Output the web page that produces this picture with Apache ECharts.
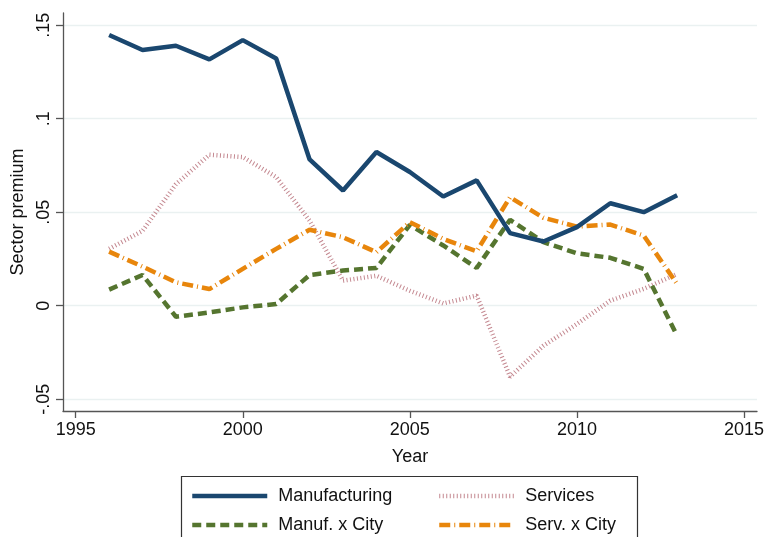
<!DOCTYPE html>
<html>
<head>
<meta charset="utf-8">
<script src="https://cdn.jsdelivr.net/npm/echarts@6/dist/echarts.min.js"></script>
<style>
  html, body { margin: 0; padding: 0; background: #fff; }
  #chart { width: 767px; height: 537px; }
</style>
</head>
<body>
<div id="chart"></div>
<script>
// data
var years = [1996,1997,1998,1999,2000,2001,2002,2003,2004,2005,2006,2007,2008,2009,2010,2011,2012,2013];
var manufacturing = [0.1447,0.1367,0.139,0.1317,0.142,0.1322,0.0782,0.0616,0.0822,0.0715,0.0584,0.067,0.0388,0.0343,0.042,0.0548,0.05,0.059];
var services = [0.0304,0.040,0.065,0.0807,0.0795,0.0688,0.0455,0.0134,0.016,0.008,0.0012,0.0054,-0.038,-0.0214,-0.0098,0.0027,0.009,0.017];
var manufCity = [0.0086,0.0164,-0.0059,-0.0036,-0.0009,0.0009,0.0164,0.0188,0.0202,0.0432,0.0322,0.0202,0.0459,0.034,0.028,0.0256,0.0197,-0.0161];
var servCity = [0.0289,0.0209,0.0125,0.0089,0.0197,0.0304,0.0406,0.0366,0.0286,0.0447,0.0357,0.0291,0.058,0.047,0.0423,0.0434,0.0375,0.0116];
var xTicks = [1995,2000,2005,2010,2015];
var yTicks = [-0.05,0,0.05,0.1,0.15];

function pairs(arr){
    return arr.map(function(v,i){ return [years[i], v]; });
}

var chart = echarts.init(document.getElementById('chart'));
var fontFam = '"Liberation Sans", Arial, Helvetica, sans-serif';
var axisColor = '#555555';

// one legend per item so the two columns line up like the original
function legendItem(name, left, top){
    return {
        left: left,
        top: top,
        padding: 0,
        itemWidth: 75,
        itemHeight: 14,
        itemGap: 0,
        itemStyle: { opacity: 0 },
        lineStyle: { width: 4.5 },
        textStyle: { color: '#111', fontSize: 18, fontFamily: fontFam, padding: [0, 0, 0, 6] },
        data: [name]
    };
}

var option = {
    animation: false,
    backgroundColor: '#ffffff',
    grid: {
        left: 63,
        right: 10,
        top: 13,
        bottom: 126
    },
    xAxis: {
        type: 'value',
        min: 1994.62,
        max: 2015.39,
        name: 'Year',
        nameLocation: 'middle',
        nameGap: 37,
        nameTextStyle: { color: '#111', fontSize: 18, fontFamily: fontFam },
        axisLine: { show: true, onZero: false, lineStyle: { color: axisColor, width: 1.3 } },
        axisTick: { show: true, length: 7, customValues: xTicks, lineStyle: { color: axisColor, width: 1.3 } },
        axisLabel: {
            customValues: xTicks,
            color: '#111',
            fontSize: 18,
            fontFamily: fontFam,
            margin: 10,
            formatter: function(v){ return String(v); }
        },
        splitLine: { show: false }
    },
    yAxis: {
        type: 'value',
        min: -0.0563,
        max: 0.1565,
        name: 'Sector premium',
        nameLocation: 'middle',
        nameGap: 36,
        nameTextStyle: { color: '#111', fontSize: 18, fontFamily: fontFam },
        axisLine: { show: true, onZero: false, lineStyle: { color: axisColor, width: 1.3 } },
        axisTick: { show: true, length: 7, customValues: yTicks, lineStyle: { color: axisColor, width: 1.3 } },
        axisLabel: {
            customValues: yTicks,
            rotate: 90,
            color: '#111',
            fontSize: 18,
            fontFamily: fontFam,
            margin: 10,
            formatter: function(v){
                if (v === 0) return '0';
                return String(v).replace('0.', '.');
            }
        },
        splitLine: { show: true, lineStyle: { color: '#eaf1f1', width: 1.3 } }
    },
    legend: [
        legendItem('Manufacturing', 190, 487),
        legendItem('Manuf. x City', 190, 516),
        legendItem('Services', 437, 487),
        legendItem('Serv. x City', 437, 516)
    ],
    graphic: [
        {
            type: 'rect',
            shape: { x: 181.5, y: 476.5, width: 456, height: 80 },
            style: { fill: 'none', stroke: '#333', lineWidth: 1.2 },
            silent: true
        }
    ],
    series: [
        {
            name: 'Manufacturing',
            type: 'line',
            symbol: 'none',
            data: pairs(manufacturing),
            itemStyle: { color: '#1a476f' },
            lineStyle: { color: '#1a476f', width: 4.5 },
            z: 5
        },
        {
            name: 'Services',
            type: 'line',
            symbol: 'none',
            data: pairs(services),
            itemStyle: { color: '#c48890' },
            lineStyle: { color: '#c48890', width: 4.5, type: [1, 2.5], cap: 'butt' },
            z: 2
        },
        {
            name: 'Manuf. x City',
            type: 'line',
            symbol: 'none',
            data: pairs(manufCity),
            itemStyle: { color: '#55752f' },
            lineStyle: { color: '#55752f', width: 4.5, type: [9, 5], cap: 'butt' },
            z: 3
        },
        {
            name: 'Serv. x City',
            type: 'line',
            symbol: 'none',
            data: pairs(servCity),
            itemStyle: { color: '#e8860c' },
            lineStyle: { color: '#e8860c', width: 4.5, type: [11, 4, 1, 4], cap: 'butt' },
            z: 4
        }
    ]
};

chart.setOption(option);
</script>
</body>
</html>
